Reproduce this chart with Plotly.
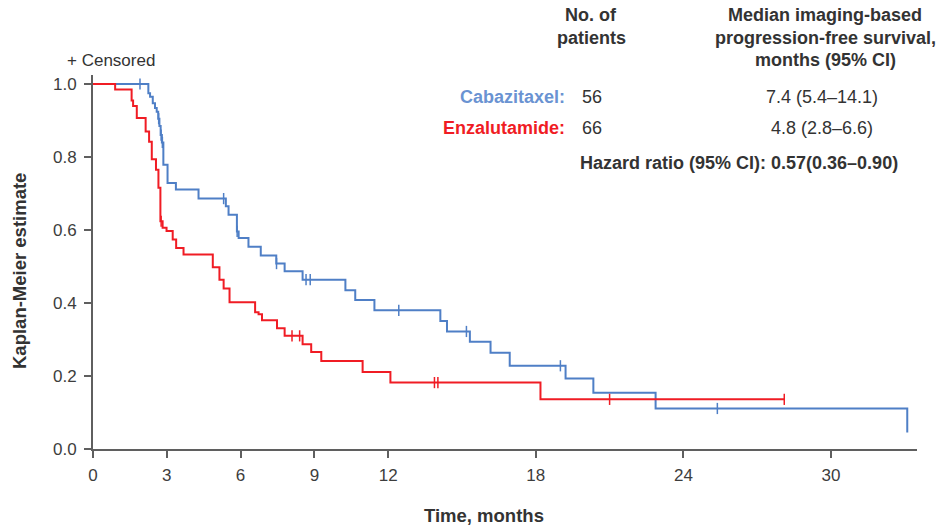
import numpy as np
import plotly.graph_objects as go

# ---- data ----
cab_times = [0, 2.25, 2.32, 2.43, 2.52, 2.59, 2.65, 2.70, 2.75, 2.80, 2.86, 3.03, 3.37, 4.29,
             5.40, 5.51, 5.85, 5.92, 6.32, 6.82, 7.45, 7.79, 8.52, 10.26, 10.66, 11.44,
             14.12, 14.39, 15.32, 16.16, 16.94, 19.21, 20.34, 22.87, 33.1]
cab_surv = [1.0, 0.975, 0.965, 0.947, 0.934, 0.924, 0.905, 0.885, 0.86, 0.84, 0.779, 0.729, 0.711, 0.686,
            0.665, 0.642, 0.596, 0.578, 0.554, 0.530, 0.508, 0.487, 0.464, 0.435, 0.408, 0.380,
            0.351, 0.322, 0.294, 0.264, 0.228, 0.193, 0.154, 0.111, 0.045]
cab_censor = [1.91, 2.67, 2.77, 2.82, 5.31, 5.86, 7.46, 8.66, 8.83, 12.43, 15.18, 19.0, 25.38]

enz_times = [0, 0.90, 1.57, 1.63, 1.78, 2.14, 2.28, 2.39, 2.56, 2.66, 2.74, 2.83, 2.99, 3.24,
             3.38, 3.68, 4.87, 5.14, 5.31, 5.55, 6.59, 6.73, 6.87, 7.48, 7.79, 8.52, 8.87,
             9.28, 10.96, 12.09, 18.19, 28.1]
enz_surv = [1.0, 0.985, 0.955, 0.94, 0.907, 0.870, 0.842, 0.794, 0.765, 0.716, 0.624, 0.606, 0.597, 0.574,
            0.551, 0.533, 0.498, 0.464, 0.44, 0.402, 0.375, 0.369, 0.353, 0.331, 0.31, 0.287, 0.266,
            0.241, 0.211, 0.182, 0.136, 0.136]
enz_censor = [2.77, 8.09, 8.40, 13.88, 14.02, 21.0, 28.1]

x_ticks = [0, 3, 6, 9, 12, 18, 24, 30]
y_ticks = [0.0, 0.2, 0.4, 0.6, 0.8, 1.0]

BLUE = "#4f7fc6"
RED = "#f01c24"
TXT = "#333333"
AX = "#5f5f5f"
FONT = "Liberation Sans, Arial, sans-serif"


def step_value(times, surv, t):
    idx = np.searchsorted(np.array(times), np.array(t), side="right") - 1
    return [surv[i] for i in idx]


fig = go.Figure()
for times, surv, cens, col, name in [
    (cab_times, cab_surv, cab_censor, BLUE, "Cabazitaxel"),
    (enz_times, enz_surv, enz_censor, RED, "Enzalutamide"),
]:
    fig.add_trace(go.Scatter(x=times, y=surv, mode="lines", line=dict(color=col, width=2, shape="hv"),
                             name=name, showlegend=False, hoverinfo="skip"))
    fig.add_trace(go.Scatter(x=cens, y=step_value(times, surv, cens), mode="markers",
                             marker=dict(symbol="line-ns-open", size=8, color=col,
                                         line=dict(color=col, width=1.5)),
                             showlegend=False, hoverinfo="skip"))

# plot area in pixels: x 93..917, y 75..449
L, R, T, B = 93, 917, 75, 449
W, H = 944, 529


def px(x):
    return (x - L) / (R - L)


def py(y):
    return (B - y) / (B - T)


tick_font = dict(family=FONT, size=17, color="#3d3d3d")
fig.update_layout(
    width=W, height=H,
    margin=dict(l=L, r=W - R, t=T, b=H - B, pad=0),
    plot_bgcolor="white", paper_bgcolor="white",
    xaxis=dict(range=[0, 30 * (R - L) / (831 - L)], tickvals=x_ticks, ticktext=[str(v) for v in x_ticks],
               showgrid=False, zeroline=False, showline=True, linecolor=AX, linewidth=2,
               ticks="outside", ticklen=7, tickwidth=1.5, tickcolor=AX, tickfont=tick_font,
               ticklabelstandoff=3),
    yaxis=dict(range=[0, (B - T) / (B - 84)], tickvals=y_ticks, ticktext=[f"{v:.1f}" for v in y_ticks],
               showgrid=False, zeroline=False, showline=True, linecolor=AX, linewidth=2,
               ticks="outside", ticklen=7, tickwidth=1.5, tickcolor=AX, tickfont=tick_font,
               ticklabelstandoff=4),
)


def ann(text, x, y, xanchor="center", color=TXT, size=18, angle=0):
    fig.add_annotation(text=text, x=px(x), y=py(y), xref="paper", yref="paper",
                       xanchor=xanchor, yanchor="middle", showarrow=False, textangle=angle,
                       font=dict(family=FONT, size=size, color=color))


ann("+ Censored", 157, 60, xanchor="right", size=17)
ann("<b>No. of</b>", 591, 15)
ann("<b>patients</b>", 591, 38)
ann("<b>Median imaging-based</b>", 825, 15)
ann("<b>progression-free survival,</b>", 825, 38)
ann("<b>months (95% CI)</b>", 825, 60)
ann("<b>Cabazitaxel:</b>", 567, 97, xanchor="right", color="#6a93d2")
ann("56", 580, 97, xanchor="left")
ann("<b>Enzalutamide:</b>", 567, 128, xanchor="right", color=RED)
ann("66", 580, 128, xanchor="left")
ann("7.4 (5.4–14.1)", 822, 97)
ann("4.8 (2.8–6.6)", 822, 128)
ann("<b>Hazard ratio (95% CI): 0.57(0.36–0.90)</b>", 578, 163, xanchor="left")
ann("<b>Kaplan-Meier estimate</b>", 19, 271, angle=-90, size=18.5)
ann("<b>Time, months</b>", 484, 515, size=18.5)

fig.write_html("out.html", config={"displayModeBar": False},
               post_script="document.body.style.margin='0px';")
